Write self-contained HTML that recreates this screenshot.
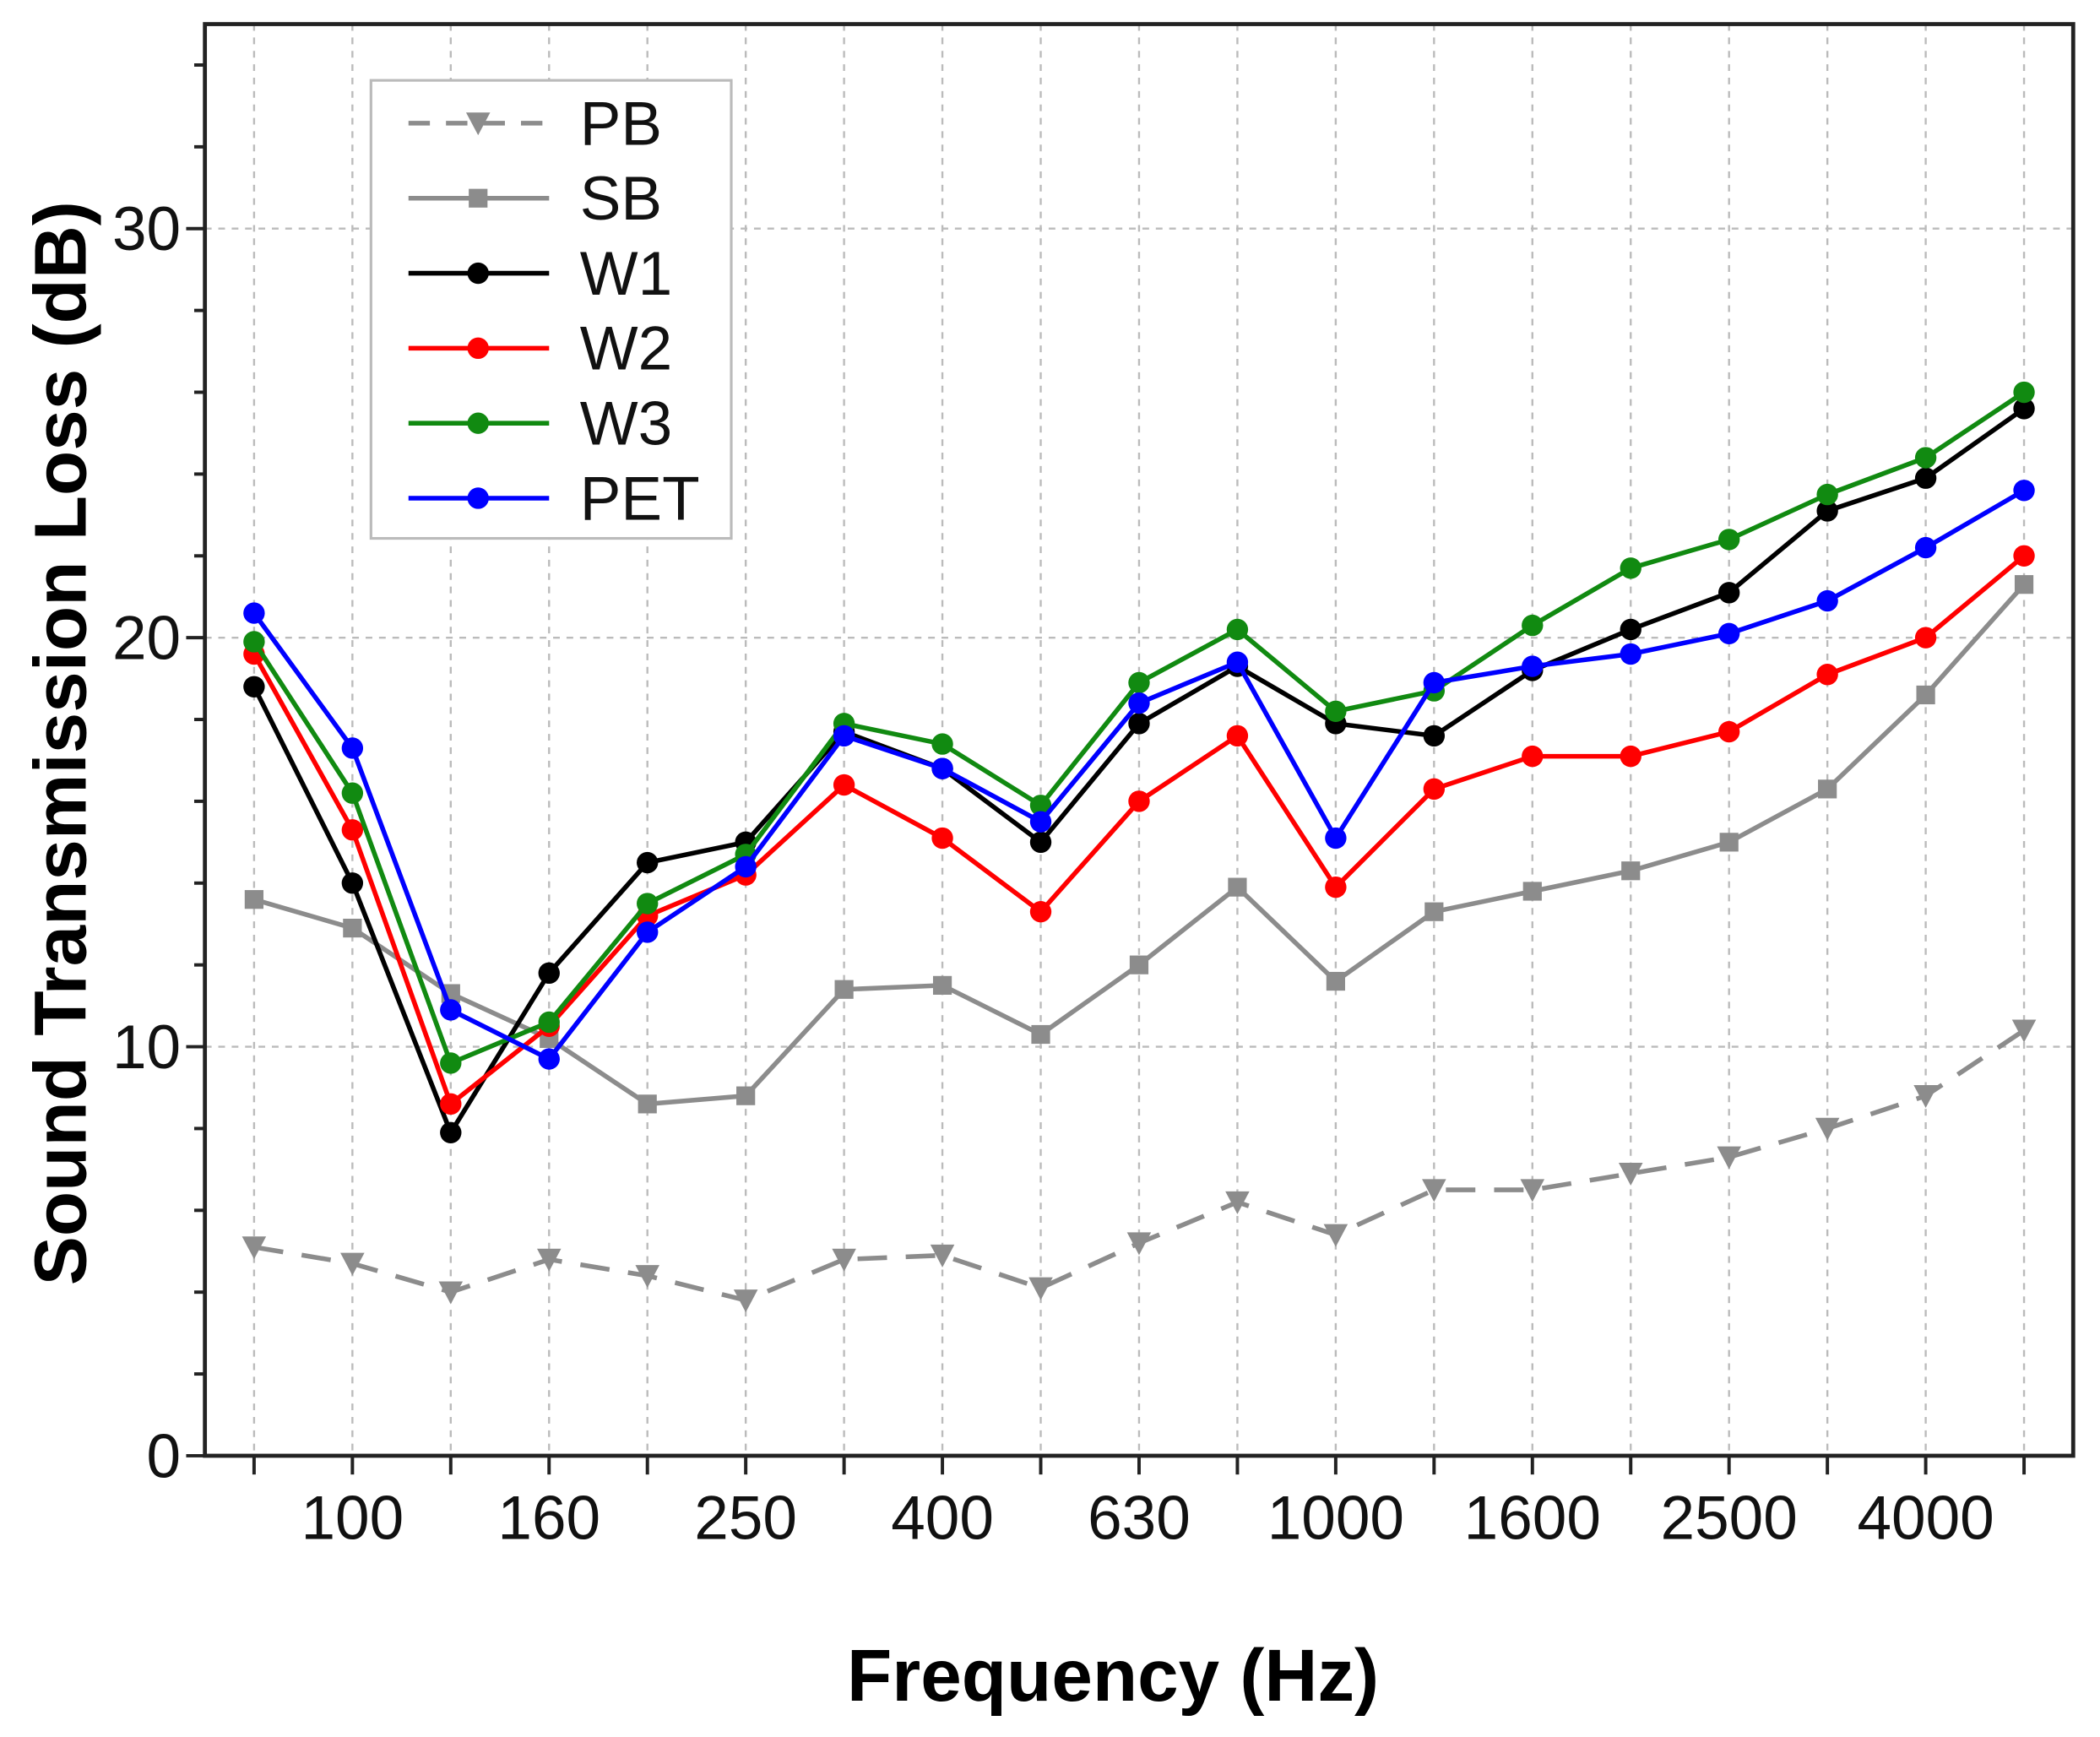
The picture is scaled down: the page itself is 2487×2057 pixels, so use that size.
<!DOCTYPE html>
<html><head><meta charset="utf-8"><style>
html,body{margin:0;padding:0;background:#fff}
svg{display:block;font-family:"Liberation Sans",Arial,sans-serif}
</style></head><body>
<svg id="chart" width="2487" height="2057" viewBox="0 0 1568 1297" preserveAspectRatio="none" xmlns="http://www.w3.org/2000/svg">
<rect width="1568" height="1297" fill="#fff"/>
<g id="grid"></g>
<g id="series"></g>
<rect x="153" y="18" width="1395" height="1069" fill="none" stroke="#222" stroke-width="3"/>
<g id="axes"></g>
<text transform="translate(64,555) rotate(-90)" text-anchor="middle" font-size="55" font-weight="bold">Sound Transmission Loss (dB)</text>
<text x="831" y="1270" text-anchor="middle" font-size="55" font-weight="bold">Frequency (Hz)</text>
<g>
<rect x="277" y="60" width="269" height="342" fill="#fff" stroke="#bbb" stroke-width="2"/>
<g id="legend-items"></g>
</g>
</svg>
<script>
const categories=["80","100","125","160","200","250","315","400","500","630","800","1000","1250","1600","2000","2500","3150","4000","5000"];
const xTickLabels=["","100","","160","","250","","400","","630","","1000","","1600","","2500","","4000",""];
const yTickLabels=[0,10,20,30];
const seriesNames=["PB","SB","W1","W2","W3","PET"];
const pbValues=[5.1,4.7,4.0,4.8,4.4,3.8,4.8,4.9,4.1,5.2,6.2,5.4,6.5,6.5,6.9,7.3,8.0,8.8,10.4];
const sbValues=[13.6,12.9,11.3,10.2,8.6,8.8,11.4,11.5,10.3,12.0,13.9,11.6,13.3,13.8,14.3,15.0,16.3,18.6,21.3];
const w1Values=[18.8,14.0,7.9,11.8,14.5,15.0,17.7,16.8,15.0,17.9,19.3,17.9,17.6,19.2,20.2,21.1,23.1,23.9,25.6];
const w2Values=[19.6,15.3,8.6,10.5,13.2,14.2,16.4,15.1,13.3,16.0,17.6,13.9,16.3,17.1,17.1,17.7,19.1,20.0,22.0];
const w3Values=[19.9,16.2,9.6,10.6,13.5,14.7,17.9,17.4,15.9,18.9,20.2,18.2,18.7,20.3,21.7,22.4,23.5,24.4,26.0];
const petValues=[20.6,17.3,10.9,9.7,12.8,14.4,17.6,16.8,15.5,18.4,19.4,15.1,18.9,19.3,19.6,20.1,20.9,22.2,23.6];

const NS="http://www.w3.org/2000/svg";
const L=153,R=1548,T=18,B=1087,YMAX=35;
const n=categories.length;
function xs(i){return L+(i+0.5)*(R-L)/n;}
function ys(v){return B-v*(B-T)/YMAX;}
function mk(tag,attrs,parent){const e=document.createElementNS(NS,tag);for(const k in attrs)e.setAttribute(k,attrs[k]);parent.appendChild(e);return e;}
const grid=document.getElementById('grid'),axes=document.getElementById('axes'),ser=document.getElementById('series');
categories.forEach((c,i)=>{
  const g=mk('line',{x1:xs(i),x2:xs(i),y1:T,y2:B,stroke:'#bbb','stroke-width':1.5,'stroke-dasharray':'5,5'},grid);
  
  
  const t=mk('line',{x1:xs(i),x2:xs(i),y1:B,y2:B+14,stroke:'#222','stroke-width':2.5},axes);
  
  
  if(xTickLabels[i]){
    const tx=mk('text',{x:xs(i),y:B+62,'text-anchor':'middle','font-size':46,fill:'#111'},axes);
    tx.textContent=xTickLabels[i];
    
    
  }
});
for(let v=0;v<=34;v+=2){
  const major=v%10===0;
  const t=mk('line',{x1:L-(major?14:8),x2:L,y1:ys(v),y2:ys(v),stroke:'#222','stroke-width':2.5},axes);
  
  
}
yTickLabels.forEach(v=>{
  if(v>0){
    const g=mk('line',{x1:L,x2:R,y1:ys(v),y2:ys(v),stroke:'#bbb','stroke-width':1.5,'stroke-dasharray':'5,5'},grid);
    
    
  }
  const tx=mk('text',{x:L-18,y:ys(v)+16,'text-anchor':'end','font-size':46,fill:'#111'},axes);
  tx.textContent=v;
  
  
});
const styles=[
 {vals:pbValues,color:'#8c8c8c',dash:'22,14',marker:'tri'},
 {vals:sbValues,color:'#8c8c8c',dash:'',marker:'sq'},
 {vals:w1Values,color:'#000',dash:'',marker:'c'},
 {vals:w2Values,color:'#f00',dash:'',marker:'c'},
 {vals:w3Values,color:'#118a11',dash:'',marker:'c'},
 {vals:petValues,color:'#00f',dash:'',marker:'c'}
];
function marker(type,x,y,color,parent){
  let m;
  if(type==='tri') m=mk('path',{d:`M${x-9},${y-8}L${x+9},${y-8}L${x},${y+9}Z`,fill:color},parent);
  else if(type==='sq') m=mk('rect',{x:x-7,y:y-7,width:14,height:14,fill:color},parent);
  else m=mk('circle',{cx:x,cy:y,r:8,fill:color},parent);
  return m;
}
styles.forEach((s,k)=>{
  const g=mk('g',{},ser);
  
  
  const pts=s.vals.map((v,i)=>xs(i)+','+ys(v)).join(' ');
  const pl=mk('polyline',{points:pts,fill:'none',stroke:s.color,'stroke-width':3.5,'stroke-dasharray':s.dash},g);
  
  
  s.vals.forEach((v,i)=>{
    const m=marker(s.marker,xs(i),ys(v),s.color,g);
    
    
  });
  const lg=document.getElementById('legend-items');
  const y=92+k*56;
  const e=mk('g',{},lg);
  
  
  mk('line',{x1:305,x2:410,y1:y,y2:y,stroke:s.color,'stroke-width':3.5,'stroke-dasharray':s.dash?'16,12':''},e);
  marker(s.marker,357,y,s.color,e);
  const tx=mk('text',{x:433,y:y+16,'font-size':46,fill:'#111'},e);
  tx.textContent=seriesNames[k];
});
</script>
</body></html>
